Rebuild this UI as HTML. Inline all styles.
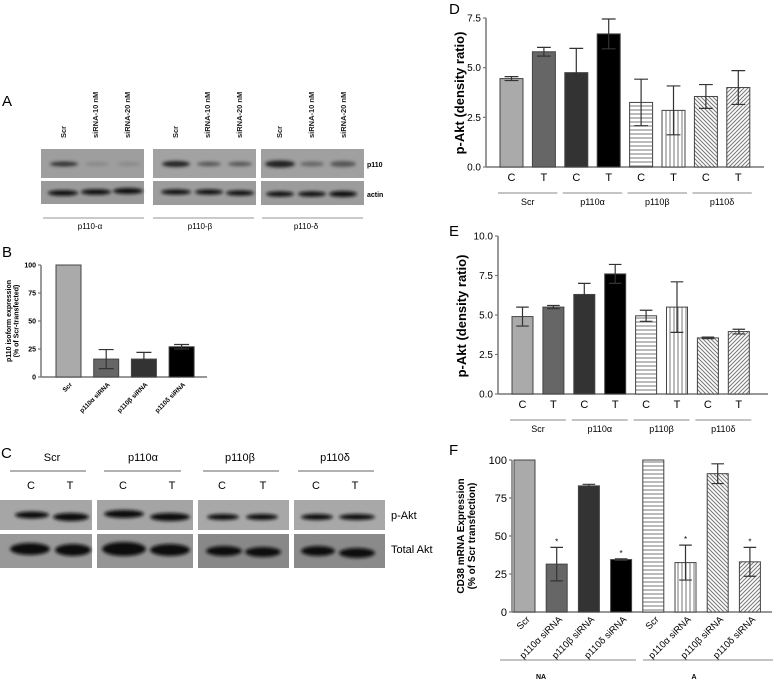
<!DOCTYPE html>
<html><head><meta charset="utf-8"><style>
html,body{margin:0;padding:0;background:#fff;}
svg{display:block;font-family:"Liberation Sans",Arial,sans-serif;}
</style></head><body>
<svg id="fig" width="778" height="694" viewBox="0 0 778 694">
<defs>
<pattern id="hl" width="4" height="4" patternUnits="userSpaceOnUse"><rect width="4" height="4" fill="#fff"/><line x1="0" y1="2" x2="4" y2="2" stroke="#777" stroke-width="1"/></pattern>
<pattern id="vl" width="4" height="4" patternUnits="userSpaceOnUse"><rect width="4" height="4" fill="#fff"/><line x1="2" y1="0" x2="2" y2="4" stroke="#777" stroke-width="1"/></pattern>
<pattern id="bs" width="4" height="4" patternUnits="userSpaceOnUse"><rect width="4" height="4" fill="#fff"/><path d="M0,0 L4,4 M-1,3 L1,5 M3,-1 L5,1" stroke="#777" stroke-width="1"/></pattern>
<pattern id="fs" width="4" height="4" patternUnits="userSpaceOnUse"><rect width="4" height="4" fill="#fff"/><path d="M0,4 L4,0 M-1,1 L1,-1 M3,5 L5,3" stroke="#777" stroke-width="1"/></pattern>
<filter id="bl" x="-20%" y="-50%" width="140%" height="200%"><feGaussianBlur stdDeviation="1.6"/></filter>
</defs>

<!-- Panel A -->
<g>
<text x="2" y="106" font-size="15">A</text>
<g font-size="7.5" font-weight="bold" fill="#222">
<text transform="translate(66,138) rotate(-90)">Scr</text>
<text transform="translate(98,138) rotate(-90)">siRNA-10 nM</text>
<text transform="translate(130,138) rotate(-90)">siRNA-20 nM</text>
<text transform="translate(178,138) rotate(-90)">Scr</text>
<text transform="translate(210,138) rotate(-90)">siRNA-10 nM</text>
<text transform="translate(242,138) rotate(-90)">siRNA-20 nM</text>
<text transform="translate(282,138) rotate(-90)">Scr</text>
<text transform="translate(314,138) rotate(-90)">siRNA-10 nM</text>
<text transform="translate(346,138) rotate(-90)">siRNA-20 nM</text>
</g>
<g>
<rect x="41" y="149" width="103" height="29" fill="#9e9e9e"/>
<rect x="153" y="149" width="103" height="29" fill="#a2a2a2"/>
<rect x="261" y="149" width="103" height="29" fill="#a0a0a0"/>
<rect x="41" y="181" width="103" height="23" fill="#9a9a9a"/>
<rect x="153" y="181" width="103" height="24" fill="#9c9c9c"/>
<rect x="261" y="181" width="103" height="24" fill="#9c9c9c"/>
<g filter="url(#bl)">
<ellipse cx="64" cy="164" rx="14" ry="2.5" fill="#333"/>
<ellipse cx="97" cy="164" rx="12" ry="2" fill="#888"/>
<ellipse cx="129" cy="164" rx="12" ry="2" fill="#8a8a8a"/>
<ellipse cx="176" cy="164" rx="14" ry="3" fill="#222"/>
<ellipse cx="209" cy="164" rx="12" ry="2.2" fill="#555"/>
<ellipse cx="240" cy="164" rx="12" ry="2.2" fill="#555"/>
<ellipse cx="280" cy="164" rx="15" ry="3.5" fill="#222"/>
<ellipse cx="312" cy="164" rx="12" ry="2.5" fill="#666"/>
<ellipse cx="343" cy="164" rx="13" ry="3" fill="#555"/>
<ellipse cx="63" cy="193" rx="15" ry="2.8" fill="#111"/>
<ellipse cx="96" cy="192" rx="15" ry="2.8" fill="#111"/>
<ellipse cx="128" cy="191" rx="15" ry="3" fill="#111"/>
<ellipse cx="176" cy="192" rx="15" ry="2.6" fill="#111"/>
<ellipse cx="209" cy="192" rx="14" ry="2.6" fill="#111"/>
<ellipse cx="240" cy="193" rx="14" ry="2.6" fill="#111"/>
<ellipse cx="280" cy="194" rx="14" ry="2.6" fill="#111"/>
<ellipse cx="312" cy="194" rx="14" ry="2.6" fill="#111"/>
<ellipse cx="343" cy="194" rx="14" ry="3" fill="#111"/>
</g>
</g>
<text x="367" y="167" font-size="7" font-weight="bold">p110</text>
<text x="367" y="197" font-size="7" font-weight="bold">actin</text>
<g stroke="#aaa" stroke-width="1.2"><line x1="43" y1="218" x2="144" y2="218"/><line x1="153" y1="218" x2="254" y2="218"/><line x1="262" y1="218" x2="363" y2="218"/></g>
<g font-size="8" text-anchor="middle">
<text x="90" y="229">p110-α</text>
<text x="200" y="229">p110-β</text>
<text x="306" y="229">p110-δ</text>
</g>
</g>

<!-- Panel C -->
<g>
<text x="1" y="458" font-size="15">C</text>
<g font-size="11" text-anchor="middle">
<text x="52" y="461">Scr</text>
<text x="143" y="461">p110α</text>
<text x="240" y="461">p110β</text>
<text x="335" y="461">p110δ</text>
<text x="31" y="489">C</text><text x="70" y="489">T</text>
<text x="123" y="489">C</text><text x="172" y="489">T</text>
<text x="222" y="489">C</text><text x="263" y="489">T</text>
<text x="316" y="489">C</text><text x="355" y="489">T</text>
</g>
<g stroke="#666" stroke-width="1"><line x1="10" y1="471" x2="86" y2="471"/><line x1="104" y1="471" x2="181" y2="471"/><line x1="203" y1="471" x2="279" y2="471"/><line x1="298" y1="471" x2="374" y2="471"/></g>
<g>
<rect x="0" y="500" width="92" height="30" fill="#a6a6a6"/>
<rect x="97" y="500" width="96" height="30" fill="#a4a4a4"/>
<rect x="198" y="500" width="91" height="30" fill="#a8a8a8"/>
<rect x="294" y="500" width="91" height="30" fill="#a8a8a8"/>
<rect x="0" y="534" width="92" height="34" fill="#999"/>
<rect x="97" y="534" width="96" height="34" fill="#959595"/>
<rect x="198" y="534" width="91" height="34" fill="#888"/>
<rect x="294" y="534" width="91" height="34" fill="#8a8a8a"/>
<g filter="url(#bl)" fill="#111">
<ellipse cx="32" cy="515" rx="17" ry="3.5"/><ellipse cx="71" cy="517" rx="18" ry="4"/>
<ellipse cx="124" cy="514" rx="20" ry="4"/><ellipse cx="170" cy="517" rx="20" ry="4"/>
<ellipse cx="223" cy="517" rx="16" ry="3"/><ellipse cx="262" cy="517" rx="16" ry="3"/>
<ellipse cx="317" cy="517" rx="16" ry="3"/><ellipse cx="357" cy="517" rx="18" ry="3"/>
<ellipse cx="30" cy="549" rx="20" ry="6"/><ellipse cx="73" cy="550" rx="18" ry="6"/>
<ellipse cx="124" cy="549" rx="22" ry="7"/><ellipse cx="170" cy="550" rx="20" ry="6"/>
<ellipse cx="224" cy="551" rx="18" ry="5"/><ellipse cx="263" cy="552" rx="18" ry="5"/>
<ellipse cx="318" cy="551" rx="17" ry="5"/><ellipse cx="357" cy="553" rx="18" ry="5"/>
</g>
</g>
<text x="391" y="519" font-size="11">p-Akt</text>
<text x="391" y="553" font-size="11">Total Akt</text>
</g>

<text x="449" y="14" font-size="15">D</text>
<text x="449" y="236" font-size="15">E</text>
<text x="449" y="455" font-size="15">F</text>
<text x="2" y="257" font-size="15">B</text>
</svg>

<script>
// ---- Panel B data ----
const bCategories = ["Scr", "p110α siRNA", "p110β siRNA", "p110δ siRNA"];
const bValues = [100, 16, 16, 27];
const bErrors = [0, 8.5, 6, 2];
const bTicks = [0, 25, 50, 75, 100];
// ---- Panel D data ----
const dCategories = ["C", "T", "C", "T", "C", "T", "C", "T"];
const dValues = [4.45, 5.8, 4.75, 6.7, 3.25, 2.85, 3.55, 4.0];
const dErrors = [0.1, 0.22, 1.22, 0.75, 1.17, 1.23, 0.6, 0.85];
const dTicks = ["0.0", "2.5", "5.0", "7.5"];
// ---- Panel E data ----
const eCategories = ["C", "T", "C", "T", "C", "T", "C", "T"];
const eValues = [4.9, 5.5, 6.3, 7.6, 4.95, 5.5, 3.55, 3.95];
const eErrors = [0.6, 0.1, 0.7, 0.6, 0.35, 1.6, 0.05, 0.15];
const eTicks = ["0.0", "2.5", "5.0", "7.5", "10.0"];
const groupNames = ["Scr", "p110α", "p110β", "p110δ"];
// ---- Panel F data ----
const fCategories = ["Scr", "p110α siRNA", "p110β siRNA", "p110δ siRNA", "Scr", "p110α siRNA", "p110β siRNA", "p110δ siRNA"];
const fValues = [100, 31.5, 83, 34.5, 100, 32.5, 91, 33];
const fErrors = [0, 11, 1, 0.5, 0, 11.5, 6.5, 9.5];
const fStars = [false, true, false, true, false, true, false, true];
const fTicks = [0, 25, 50, 75, 100];

const NS = "http://www.w3.org/2000/svg";
const svg = document.getElementById("fig");
function mk(tag, attrs, parent) {
  const el = document.createElementNS(NS, tag);
  for (const k in attrs) el.setAttribute(k, attrs[k]);
  (parent || svg).appendChild(el);
  return el;
}
const fills8 = ["#aaaaaa", "#666666", "#333333", "#000000", "url(#hl)", "url(#vl)", "url(#bs)", "url(#fs)"];

function chart(cfg) {
  const g = mk("g", {});
  
  
  const yS = v => cfg.y0 - (v - cfg.min) / (cfg.max - cfg.min) * (cfg.y0 - cfg.y1);
  const ya = mk("line", {x1: cfg.ax, y1: cfg.y1, x2: cfg.ax, y2: cfg.y0, stroke: "#777", "stroke-width": 1.5}, g);
  
  
  const xa = mk("line", {x1: cfg.ax, y1: cfg.y0, x2: cfg.axEnd, y2: cfg.y0, stroke: "#777", "stroke-width": 1.5}, g);
  
  
  cfg.ticks.forEach(t => {
    const y = yS(parseFloat(t));
    mk("line", {x1: cfg.ax - 3, y1: y, x2: cfg.ax, y2: y, stroke: "#777", "stroke-width": 1.2}, g);
    const tl = mk("text", {x: cfg.ax - 5, y: y + cfg.tf * 0.35, "font-size": cfg.tf, "text-anchor": "end", "font-weight": cfg.tickBold ? "bold" : "normal"}, g);
    
    
    tl.textContent = t;
  });
  cfg.values.forEach((v, i) => {
    const x = cfg.x0 + i * cfg.step;
    const y = yS(v);
    const r = mk("rect", {x: x, y: y, width: cfg.bw, height: cfg.y0 - y, fill: cfg.fills[i], stroke: "#444", "stroke-width": 1}, g);
    
    
    const e = cfg.errors[i];
    if (e > 0) {
      const cx = x + cfg.bw / 2;
      const eh = yS(v + e), el = yS(v - e), c = cfg.bw * 0.3;
      const p = mk("path", {d: `M${cx},${eh}V${el}M${cx - c},${eh}H${cx + c}M${cx - c},${el}H${cx + c}`, stroke: "#333", "stroke-width": 1.2, fill: "none"}, g);
      
      
    }
    if (cfg.stars && cfg.stars[i]) {
      const s = mk("text", {x: x + cfg.bw / 2, y: yS(v + e) - 3, "font-size": 8, "text-anchor": "middle"}, g);
      
      
      s.textContent = "*";
    }
    const cx = x + cfg.bw / 2;
    if (cfg.rotLabels) {
      const t = mk("text", {transform: `translate(${cx + cfg.rotDx},${cfg.y0 + cfg.rotDy}) rotate(-45)`, "font-size": cfg.lf, "text-anchor": "end", "font-weight": cfg.labelBold ? "bold" : "normal"}, g);
      
      
      t.textContent = cfg.cats[i];
    } else {
      const t = mk("text", {x: cx, y: cfg.y0 + 14, "font-size": 11, "text-anchor": "middle"}, g);
      
      
      t.textContent = cfg.cats[i];
    }
  });
  if (cfg.groups) {
    cfg.groups.forEach((gn, k) => {
      const xa2 = cfg.x0 + k * 2 * cfg.step - 2, xb = cfg.x0 + (k * 2 + 1) * cfg.step + cfg.bw + 2;
      mk("line", {x1: xa2, y1: cfg.y0 + 26, x2: xb, y2: cfg.y0 + 26, stroke: "#888", "stroke-width": 1}, g);
      const t = mk("text", {x: (xa2 + xb) / 2, y: cfg.y0 + 38, "font-size": 9, "text-anchor": "middle"}, g);
      
      
      t.textContent = gn;
    });
  }
  const yt = mk("g", {transform: `translate(${cfg.titleX},${cfg.titleY}) rotate(-90)`}, g);
  cfg.title.forEach((line, k) => {
    const t = mk("text", {x: 0, y: k * cfg.titleFs * 1.1, "font-size": cfg.titleFs, "font-weight": "bold", "text-anchor": "middle"}, yt);
    
    
    t.textContent = line;
  });
}

chart({name: "panel-b-chart", ax: 41, axEnd: 207, y0: 377, y1: 265, min: 0, max: 100, ticks: bTicks.map(String), tf: 7, tickBold: true,
  values: bValues, errors: bErrors, cats: bCategories, x0: 56, step: 37.7, bw: 25, fills: ["#aaaaaa", "#666666", "#333333", "#000000"],
  rotLabels: true, rotDx: 4, rotDy: 8, lf: 6.5, labelBold: true, title: ["p110 isoform expression", "(% of Scr-transfected)"], titleX: 11, titleY: 321, titleFs: 7});

chart({name: "panel-d-chart", ax: 486, axEnd: 764, y0: 167, y1: 18, min: 0, max: 7.5, ticks: dTicks, tf: 10,
  values: dValues, errors: dErrors, cats: dCategories, x0: 500, step: 32.4, bw: 23, fills: fills8, groups: groupNames,
  title: ["p-Akt (density ratio)"], titleX: 464, titleY: 93, titleFs: 13});

chart({name: "panel-e-chart", ax: 498, axEnd: 768, y0: 394, y1: 236, min: 0, max: 10, ticks: eTicks, tf: 10,
  values: eValues, errors: eErrors, cats: eCategories, x0: 512, step: 30.9, bw: 21, fills: fills8, groups: groupNames,
  title: ["p-Akt (density ratio)"], titleX: 466, titleY: 316, titleFs: 13});

chart({name: "panel-f-chart", ax: 512, axEnd: 772, y0: 612, y1: 460, min: 0, max: 100, ticks: fTicks.map(String), tf: 11,
  values: fValues, errors: fErrors, cats: fCategories, stars: fStars, x0: 514, step: 32.2, bw: 21, fills: fills8,
  rotLabels: true, rotDx: 6, rotDy: 8, lf: 9.5, title: ["CD38 mRNA Expression", "(% of Scr transfection)"], titleX: 464, titleY: 536, titleFs: 10});

const gl1 = mk("line", {x1: 500, y1: 660, x2: 636, y2: 660, stroke: "#888", "stroke-width": 1});


const gl2 = mk("line", {x1: 643, y1: 660, x2: 773, y2: 660, stroke: "#888", "stroke-width": 1});


const na = mk("text", {x: 541, y: 679, "font-size": 7, "font-weight": "bold", "text-anchor": "middle"});


na.textContent = "NA";
const aa = mk("text", {x: 694, y: 679, "font-size": 7, "font-weight": "bold", "text-anchor": "middle"});


aa.textContent = "A";
</script>
</body></html>
